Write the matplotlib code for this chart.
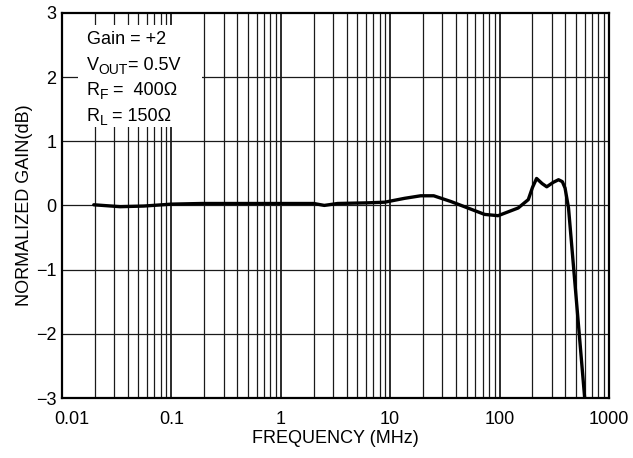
import numpy as np
import matplotlib
matplotlib.use("Agg")
import matplotlib.pyplot as plt
from matplotlib.patches import Rectangle
from matplotlib.transforms import ScaledTranslation, offset_copy

plt.rcParams["font.family"] = ["Liberation Sans", "DejaVu Sans"]

# frequency response, Gain = +2
freq_mhz = [0.0195, 0.034, 0.056, 0.1, 0.19, 0.66, 1.07, 2.0, 2.5, 3.3, 6.2, 8.9,
            13.5, 19, 25, 36, 55, 73, 97, 148, 183, 200, 218, 245, 270, 310, 346,
            375, 397, 427, 488, 600]
gain_db = [0.01, -0.02, -0.01, 0.02, 0.03, 0.03, 0.03, 0.03, 0.0, 0.03, 0.04, 0.05,
           0.11, 0.15, 0.15, 0.06, -0.06, -0.14, -0.16, -0.04, 0.09, 0.28, 0.42, 0.34,
           0.29, 0.36, 0.40, 0.37, 0.27, -0.04, -1.2, -3.0]

x_ticks = [0.01, 0.1, 1, 10, 100, 1000]
x_tick_labels = ["0.01", "0.1", "1", "10", "100", "1000"]
y_ticks = [-3, -2, -1, 0, 1, 2, 3]
y_tick_labels = ["\u22123", "\u22122", "\u22121", "0", "1", "2", "3"]
# (text, is_subscript) pieces for each condition line
conditions = [
    [("Gain = +2", False)],
    [("V", False), ("OUT", True), ("= 0.5V", False)],
    [("R", False), ("F", True), (" =  400\u03a9", False)],
    [("R", False), ("L", True), (" = 150\u03a9", False)],
]

fig = plt.figure(figsize=(6.33, 4.58), dpi=100)
ax = fig.add_axes([0.098, 0.131, 0.864, 0.841])

ax.set_xscale("log")
ax.set_xlim(0.01, 1000)
ax.set_ylim(-3, 3)

# grid: every decade and sub-decade line, plus each dB
for dec in [0.01, 0.1, 1, 10, 100]:
    for k in range(1, 10):
        f = dec * k
        if f <= 0.01:
            continue
        ax.axvline(f, color="#1a1a1a", lw=1.3 if k == 1 else 0.9, zorder=1)
for g in y_ticks[1:-1]:
    ax.axhline(g, color="#1a1a1a", lw=0.9, zorder=1)

# white panel behind the test conditions
ax.add_patch(Rectangle((0.029, 0.704), 0.227, 0.265, transform=ax.transAxes,
                       facecolor="white", edgecolor="none", zorder=2))

renderer = fig.canvas.get_renderer()
for i, parts in enumerate(conditions):
    trans = ax.transAxes
    x0, y0 = 0.045, 0.918 - i * 0.066
    for txt, sub in parts:
        t = ax.text(x0, y0, txt, transform=trans, fontsize=10 if sub else 13,
                    va="baseline", ha="left", zorder=3)
        if sub:
            t.set_transform(offset_copy(trans, fig=fig, y=-4, units="dots"))
        w = t.get_window_extent(renderer).width
        trans = offset_copy(trans, fig=fig, x=w, units="dots")

ax.plot(freq_mhz, gain_db, color="black", lw=2.4, zorder=4,
        solid_joinstyle="round", solid_capstyle="round")

ax.set_xticks(x_ticks)
ax.set_xticklabels(x_tick_labels)
ax.xaxis.set_minor_locator(matplotlib.ticker.NullLocator())
ax.set_yticks(y_ticks)
ax.set_yticklabels(y_tick_labels)
ax.tick_params(axis="both", length=0, labelsize=13)
ax.tick_params(axis="x", pad=9)
ax.tick_params(axis="y", pad=4)

# keep "0.01" clear of the "-3" label
first = ax.get_xticklabels()[0]
first.set_transform(first.get_transform() + ScaledTranslation(10 / 100, 0, fig.dpi_scale_trans))

for s in ax.spines.values():
    s.set_linewidth(1.6)
    s.set_zorder(5)

ax.set_xlabel("FREQUENCY (MHz)", fontsize=13, labelpad=2)
ax.set_ylabel("NORMALIZED GAIN(dB)", fontsize=13, labelpad=2)

fig.savefig("out.png", dpi=100)
